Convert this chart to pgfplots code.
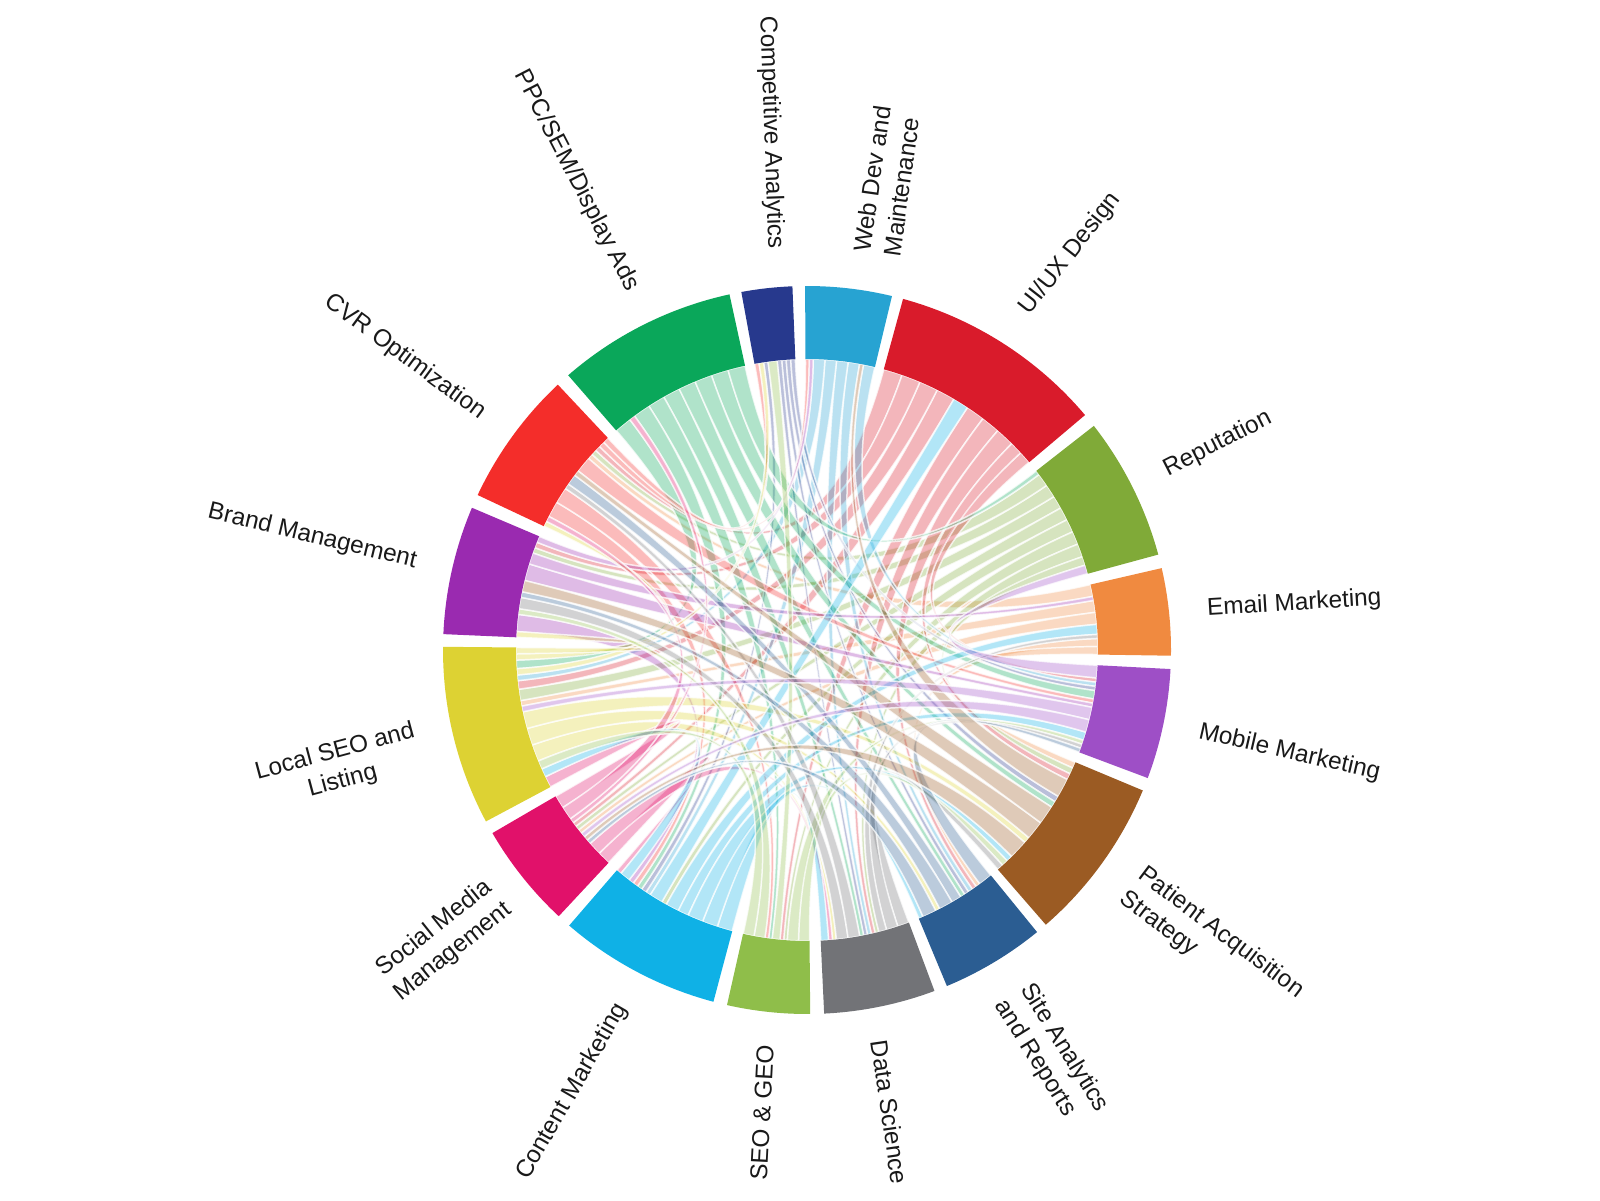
\documentclass[border=0pt]{standalone}
\usepackage{pgfplots}
\pgfplotsset{compat=1.18}
\usepackage{fontspec}
\setmainfont{Liberation Sans}
\definecolor{c1}{HTML}{F08A40}
\definecolor{c2}{HTML}{80AA38}
\definecolor{c3}{HTML}{D91B2B}
\definecolor{c4}{HTML}{27A3D2}
\definecolor{c5}{HTML}{27398D}
\definecolor{c6}{HTML}{0AA75A}
\definecolor{c7}{HTML}{F42D2A}
\definecolor{c8}{HTML}{9A2AB0}
\definecolor{c9}{HTML}{DDD233}
\definecolor{c10}{HTML}{E1116A}
\definecolor{c11}{HTML}{0FB1E6}
\definecolor{c12}{HTML}{8FBE4A}
\definecolor{c13}{HTML}{727377}
\definecolor{c14}{HTML}{2B5D92}
\definecolor{c15}{HTML}{9B5B23}
\definecolor{c16}{HTML}{9E4FC6}
% segment: index / start angle / end angle (degrees, counterclockwise)
\def\segs{1/-0.9/13.0, 2/15.2/38.0, 3/40.2/74.7, 4/76.5/90.3, 5/92.3/100.4, 6/102.3/131.0, 7/133.2/154.8, 8/157.0/177.5, 9/179.5/208.1, 10/210.2/227.0, 11/229.2/255.1, 12/257.3/270.5, 13/272.7/290.5, 14/292.6/309.2, 15/311.0/337.3, 16/339.4/357.0}
% chord: owner / partner / width at owner / width at partner
\def\chords{1/7/3/1, 1/9/3/1, 1/10/3/1, 1/14/2/1, 1/15/2/1,
2/9/3/2, 2/8/3/1, 2/10/3/1, 2/11/3/1, 2/12/3/1, 2/7/3/1, 2/13/3/1, 2/15/2/1,
3/16/2/1, 3/10/3/1, 3/9/3/1.5, 3/7/3/1, 3/8/3/1, 3/12/3/1, 3/13/3/1, 3/14/3/1, 3/15/2/1,
4/14/3/1, 4/13/3/1, 4/16/3/1, 4/11/3/1, 4/9/3/1,
5/14/1/1, 5/13/1/1, 5/15/1/1, 5/11/1/1, 5/16/1/1,
6/13/3/1, 6/12/3/1, 6/16/3/2, 6/14/3/1, 6/2/3/1, 6/15/3/1, 6/11/3/1, 6/9/3/1.5,
7/11/3/1, 7/12/3/1, 7/4/1.1/1, 7/5/1.1/1, 7/16/3/1,
8/16/3/1, 8/1/2/1, 8/4/1.1/1, 8/11/3/1,
9/5/1.1/1, 9/7/1.1/1, 9/8/1.1/1, 9/13/3/1, 9/14/3/1, 9/15/3/1,
10/6/1.1/1, 10/9/3/2, 10/11/3/1, 10/13/3/1, 10/7/3/1,
11/1/2.6/2.5, 11/3/2.6/2.5, 11/9/2/1.5, 11/16/2.1/2, 11/13/3/2, 11/14/3/1, 11/15/3/1,
12/5/2.1/2, 12/15/3/1, 12/16/3/1, 12/8/3/1, 12/9/3/1.5,
13/8/3/2, 13/7/3/1, 13/15/3/1, 13/16/3/1, 13/1/2/1,
14/7/2.2/2, 14/8/3/1, 14/10/3/1, 14/16/3/1,
15/8/3/2, 15/4/3/1, 15/10/3/1, 15/7/3/1,
16/2/3/2, 16/9/3/1, 16/10/3/1}
\def\Ro{364}\def\Ri{291}
\tikzset{lab/.style={font=\fontsize{7.3}{9}\selectfont, inner sep=0pt, text=black!90}}
\begin{document}
\begin{tikzpicture}
\foreach \s/\ssa/\ssb in \segs {\expandafter\xdef\csname sa@\s\endcsname{\ssa}\expandafter\xdef\csname sb@\s\endcsname{\ssb}}
\foreach \s in {1,...,16}{\foreach \j in {1,...,16}{\expandafter\gdef\csname W@\s @\j\endcsname{0}}}
\foreach \i/\j/\wi/\wj in \chords {\expandafter\xdef\csname W@\i @\j\endcsname{\wi}\expandafter\xdef\csname W@\j @\i\endcsname{\wj}}
\foreach \s in {1,...,16}{
  \xdef\tot{0}
  \foreach \j in {1,...,16}{\edef\w{\csname W@\s @\j\endcsname}\pgfmathsetmacro\tmpT{\tot+\w}\xdef\tot{\tmpT}}
  \edef\sA{\csname sa@\s\endcsname}\edef\sB{\csname sb@\s\endcsname}
  \pgfmathsetmacro\scl{(\sB-\sA)/\tot}
  \xdef\ptr{\sA}
  \foreach \k in {1,...,15}{
    \pgfmathtruncatemacro\jj{mod(\s-\k+31,16)+1}
    \edef\w{\csname W@\s @\jj\endcsname}
    \pgfmathsetmacro\q{\ptr+\w*\scl}
    \expandafter\xdef\csname A@\s @\jj\endcsname{\ptr}
    \expandafter\xdef\csname B@\s @\jj\endcsname{\q}
    \xdef\ptr{\q}
  }
}
\begin{axis}[x=0.3pt, y=0.3pt, xmin=-807, xmax=793, ymin=-550, ymax=650,
  hide axis, clip=false, anchor=south west, at={(0,0)}]
\pgfplotsextra{
  \foreach \i/\j/\wi/\wj in \chords {
    \edef\angA{\csname A@\i @\j\endcsname}\edef\angB{\csname B@\i @\j\endcsname}
    \edef\angC{\csname A@\j @\i\endcsname}\edef\angD{\csname B@\j @\i\endcsname}
    \pgfmathsetmacro\xa{\Ri*cos(\angA)}\pgfmathsetmacro\ya{\Ri*sin(\angA)}
    \pgfmathsetmacro\xb{\Ri*cos(\angB)}\pgfmathsetmacro\yb{\Ri*sin(\angB)}
    \pgfmathsetmacro\xc{\Ri*cos(\angC)}\pgfmathsetmacro\yc{\Ri*sin(\angC)}
    \pgfmathsetmacro\xd{\Ri*cos(\angD)}\pgfmathsetmacro\yd{\Ri*sin(\angD)}
    \path[fill=c\i, fill opacity=0.32, draw=white, draw opacity=0.75, line width=0.45pt]
      (axis cs:\xa,\ya) arc[start angle=\angA, end angle=\angB, radius=87.3pt]
      .. controls (axis cs:\xb/3,\yb/3) and (axis cs:\xc/3,\yc/3) .. (axis cs:\xc,\yc)
      arc[start angle=\angC, end angle=\angD, radius=87.3pt]
      .. controls (axis cs:\xd/3,\yd/3) and (axis cs:\xa/3,\ya/3) .. cycle;
  }
  \foreach \s/\ssa/\ssb in \segs {
    \pgfmathsetmacro\xa{\Ro*cos(\ssa)}\pgfmathsetmacro\ya{\Ro*sin(\ssa)}
    \pgfmathsetmacro\xb{\Ri*cos(\ssb)}\pgfmathsetmacro\yb{\Ri*sin(\ssb)}
    \fill[c\s] (axis cs:\xa,\ya) arc[start angle=\ssa, end angle=\ssb, radius=109.2pt]
      -- (axis cs:\xb,\yb) arc[start angle=\ssb, end angle=\ssa, radius=87.3pt] -- cycle;
  }
}
\path (axis cs:0,0) ++(5.8:120.5pt) node[lab, anchor=west, rotate=3.5] {Email Marketing};
\path (axis cs:0,0) ++(26.6:120pt) node[lab, anchor=west, rotate=27] {Reputation};
\path (axis cs:0,0) ++(57.2:120.5pt) node[lab, anchor=west, rotate=52] {UI/UX Design};
\path (axis cs:0,0) ++(80:120.5pt) node[lab, anchor=west, rotate=82, align=left] {Web Dev and\\Maintenance};
\path (axis cs:0,0) ++(94.6:120.5pt) node[lab, anchor=east, rotate=-88] {Competitive Analytics};
\path (axis cs:0,0) ++(115.8:120pt) node[lab, anchor=east, rotate=-62.7] {PPC/SEM/Display Ads};
\path (axis cs:0,0) ++(144:120pt) node[lab, anchor=east, rotate=-36.4] {CVR Optimization};
\path (axis cs:0,0) ++(167.25:120pt) node[lab, anchor=east, rotate=-13.5] {Brand Management};
\path (axis cs:0,0) ++(193.8:120pt) node[lab, anchor=east, rotate=15, align=center] {Local SEO and\\Listing};
\path (axis cs:0,0) ++(218.6:118pt) node[lab, anchor=east, rotate=38.6, align=center] {Social Media\\Management};
\path (axis cs:0,0) ++(242.5:120pt) node[lab, anchor=east, rotate=60] {Content Marketing};
\path (axis cs:0,0) ++(264.0:119pt) node[lab, anchor=east, rotate=87] {SEO \& GEO};
\path (axis cs:0,0) ++(280.5:119pt) node[lab, anchor=west, rotate=-81.7] {Data Science};
\path (axis cs:0,0) ++(300.9:120pt) node[lab, anchor=west, rotate=-58.1, align=left] {Site Analytics\\and Reports};
\path (axis cs:0,0) ++(324.15:120pt) node[lab, anchor=west, rotate=-37, align=left] {Patient Acquisition\\Strategy};
\path (axis cs:0,0) ++(348.2:120pt) node[lab, anchor=west, rotate=-13] {Mobile Marketing};
\end{axis}
\pgfresetboundingbox
\path (current axis.south west) rectangle (current axis.north east);
\end{tikzpicture}
\end{document}
